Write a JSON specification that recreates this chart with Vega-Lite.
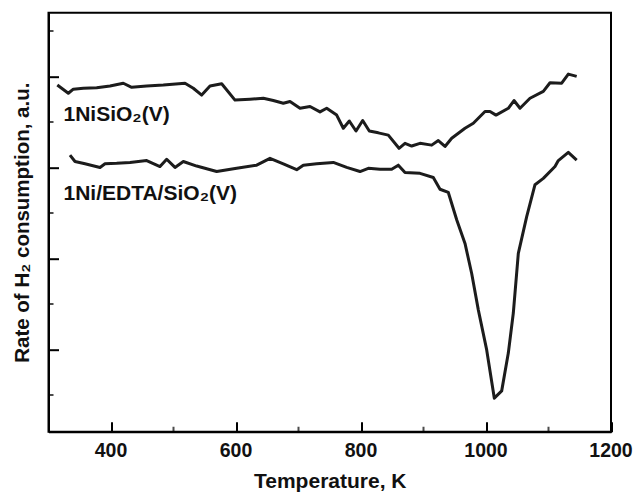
{
  "$schema": "https://vega.github.io/schema/vega-lite/v6.json",
  "width": 562.5,
  "height": 419,
  "autosize": {"type": "none"},
  "padding": {"left": 48.5, "top": 12.7, "right": 24, "bottom": 63.3},
  "background": "white",
  "config": {
    "view": {"stroke": "#000", "strokeWidth": 2},
    "font": "Liberation Sans",
    "axis": {
      "titleFont": "Liberation Sans", "titleFontWeight": "bold", "titleColor": "#111",
      "tickColor": "#000", "tickWidth": 2, "domainColor": "#000", "domainWidth": 2, "grid": false
    }
  },
  "datasets": {
    "curves": [
      {"s":"a","T":314.1,"v":6.81},{"s":"a","T":331.7,"v":6.63},{"s":"a","T":339.7,"v":6.72},{"s":"a","T":355.7,"v":6.74},{"s":"a","T":377.1,"v":6.75},{"s":"a","T":398.4,"v":6.79},{"s":"a","T":419.7,"v":6.85},{"s":"a","T":433.1,"v":6.76},{"s":"a","T":457.1,"v":6.79},{"s":"a","T":483.7,"v":6.81},{"s":"a","T":518.4,"v":6.85},{"s":"a","T":531.7,"v":6.74},{"s":"a","T":545.1,"v":6.59},{"s":"a","T":558.4,"v":6.79},{"s":"a","T":577.1,"v":6.84},{"s":"a","T":598.4,"v":6.48},{"s":"a","T":622.4,"v":6.50},{"s":"a","T":643.7,"v":6.52},{"s":"a","T":659.7,"v":6.47},{"s":"a","T":675.7,"v":6.41},{"s":"a","T":686.4,"v":6.45},{"s":"a","T":702.4,"v":6.30},{"s":"a","T":718.4,"v":6.34},{"s":"a","T":734.4,"v":6.22},{"s":"a","T":745.1,"v":6.30},{"s":"a","T":761.1,"v":6.15},{"s":"a","T":771.7,"v":5.86},{"s":"a","T":781.3,"v":6.02},{"s":"a","T":792.0,"v":5.80},{"s":"a","T":802.7,"v":6.03},{"s":"a","T":813.3,"v":5.80},{"s":"a","T":827.7,"v":5.76},{"s":"a","T":843.7,"v":5.71},{"s":"a","T":860.8,"v":5.42},{"s":"a","T":870.4,"v":5.53},{"s":"a","T":881.1,"v":5.47},{"s":"a","T":894.4,"v":5.53},{"s":"a","T":913.1,"v":5.49},{"s":"a","T":923.7,"v":5.59},{"s":"a","T":934.4,"v":5.46},{"s":"a","T":945.1,"v":5.64},{"s":"a","T":966.4,"v":5.86},{"s":"a","T":979.7,"v":5.97},{"s":"a","T":998.4,"v":6.23},{"s":"a","T":1006.4,"v":6.23},{"s":"a","T":1016.0,"v":6.15},{"s":"a","T":1035.7,"v":6.30},{"s":"a","T":1044.8,"v":6.47},{"s":"a","T":1054.4,"v":6.30},{"s":"a","T":1070.4,"v":6.52},{"s":"a","T":1091.7,"v":6.67},{"s":"a","T":1102.4,"v":6.86},{"s":"a","T":1121.1,"v":6.85},{"s":"a","T":1131.7,"v":7.05},{"s":"a","T":1145.1,"v":7.00},
      {"s":"b","T":334.4,"v":5.27},{"s":"b","T":342.4,"v":5.13},{"s":"b","T":358.4,"v":5.08},{"s":"b","T":382.4,"v":5.00},{"s":"b","T":390.4,"v":5.08},{"s":"b","T":409.1,"v":5.09},{"s":"b","T":430.4,"v":5.11},{"s":"b","T":457.1,"v":5.15},{"s":"b","T":478.4,"v":5.02},{"s":"b","T":489.1,"v":5.18},{"s":"b","T":502.4,"v":5.00},{"s":"b","T":515.7,"v":5.13},{"s":"b","T":537.1,"v":5.03},{"s":"b","T":569.1,"v":4.91},{"s":"b","T":601.1,"v":4.98},{"s":"b","T":633.1,"v":5.05},{"s":"b","T":654.4,"v":5.20},{"s":"b","T":675.7,"v":5.08},{"s":"b","T":697.1,"v":4.95},{"s":"b","T":707.7,"v":5.05},{"s":"b","T":729.1,"v":5.08},{"s":"b","T":755.7,"v":5.11},{"s":"b","T":777.1,"v":5.00},{"s":"b","T":798.4,"v":4.91},{"s":"b","T":811.7,"v":4.98},{"s":"b","T":830.4,"v":4.96},{"s":"b","T":849.1,"v":4.96},{"s":"b","T":859.7,"v":5.05},{"s":"b","T":870.4,"v":4.89},{"s":"b","T":894.4,"v":4.87},{"s":"b","T":915.7,"v":4.78},{"s":"b","T":926.4,"v":4.52},{"s":"b","T":939.7,"v":4.45},{"s":"b","T":953.1,"v":3.85},{"s":"b","T":966.4,"v":3.33},{"s":"b","T":977.1,"v":2.67},{"s":"b","T":987.7,"v":1.87},{"s":"b","T":1001.1,"v":0.99},{"s":"b","T":1013.3,"v":-0.07},{"s":"b","T":1025.1,"v":0.09},{"s":"b","T":1035.7,"v":0.92},{"s":"b","T":1043.7,"v":1.80},{"s":"b","T":1051.7,"v":3.11},{"s":"b","T":1065.1,"v":3.92},{"s":"b","T":1078.4,"v":4.62},{"s":"b","T":1091.7,"v":4.76},{"s":"b","T":1110.4,"v":5.02},{"s":"b","T":1115.7,"v":5.15},{"s":"b","T":1131.7,"v":5.33},{"s":"b","T":1145.1,"v":5.16}
    ],
    "labels": [
      {"label": "1NiSiO₂(V)", "T": 324, "v": 6.01},
      {"label": "1Ni/EDTA/SiO₂(V)", "T": 324, "v": 4.29}
    ],
    "xlabels": [{"T": 400}, {"T": 600}, {"T": 800}, {"T": 1000}, {"T": 1200}],
    "xminor": [{"T": 500}, {"T": 700}, {"T": 900}, {"T": 1100}],
    "yminor": [{"v": 0}, {"v": 2}, {"v": 4}, {"v": 6}, {"v": 8}]
  },
  "encoding": {
    "x": {
      "type": "quantitative",
      "scale": {"domain": [300, 1200], "nice": false, "zero": false},
      "axis": {
        "values": [400, 600, 800, 1000, 1200], "labels": false,
        "tickSize": -10,
        "title": "Temperature, K", "titleFontSize": 21, "titlePadding": 38
      }
    },
    "y": {
      "type": "quantitative",
      "scale": {"domain": [-0.807, 8.40], "nice": false, "zero": false},
      "axis": {
        "values": [1, 3, 5, 7], "labels": false,
        "tickSize": -10,
        "title": "Rate of H₂ consumption, a.u.", "titleFontSize": 20.5, "titlePadding": 15
      }
    }
  },
  "layer": [
    {
      "data": {"name": "curves"},
      "mark": {"type": "line", "strokeWidth": 3, "color": "#1c1c1c", "strokeJoin": "round"},
      "encoding": {
        "x": {"field": "T"},
        "y": {"field": "v"},
        "detail": {"field": "s"}
      }
    },
    {
      "data": {"name": "labels"},
      "mark": {"type": "text", "align": "left", "baseline": "alphabetic", "fontSize": 21, "fontWeight": "bold", "font": "Liberation Sans", "color": "#111"},
      "encoding": {
        "x": {"field": "T"},
        "y": {"field": "v"},
        "text": {"field": "label"}
      }
    },
    {
      "data": {"name": "xlabels"},
      "mark": {"type": "text", "align": "center", "baseline": "alphabetic", "dy": 25, "fontSize": 19.5, "fontWeight": "bold", "font": "Liberation Sans", "color": "#111"},
      "encoding": {
        "x": {"field": "T"},
        "y": {"datum": -0.807},
        "text": {"field": "T", "type": "quantitative", "format": "d"}
      }
    },
    {
      "data": {"name": "xminor"},
      "mark": {"type": "tick", "orient": "vertical", "size": 10, "thickness": 2, "color": "#000", "clip": true},
      "encoding": {
        "x": {"field": "T"},
        "y": {"datum": -0.807}
      }
    },
    {
      "data": {"name": "yminor"},
      "mark": {"type": "tick", "orient": "horizontal", "size": 10, "thickness": 2, "color": "#000", "clip": true},
      "encoding": {
        "y": {"field": "v"},
        "x": {"datum": 300}
      }
    }
  ]
}
